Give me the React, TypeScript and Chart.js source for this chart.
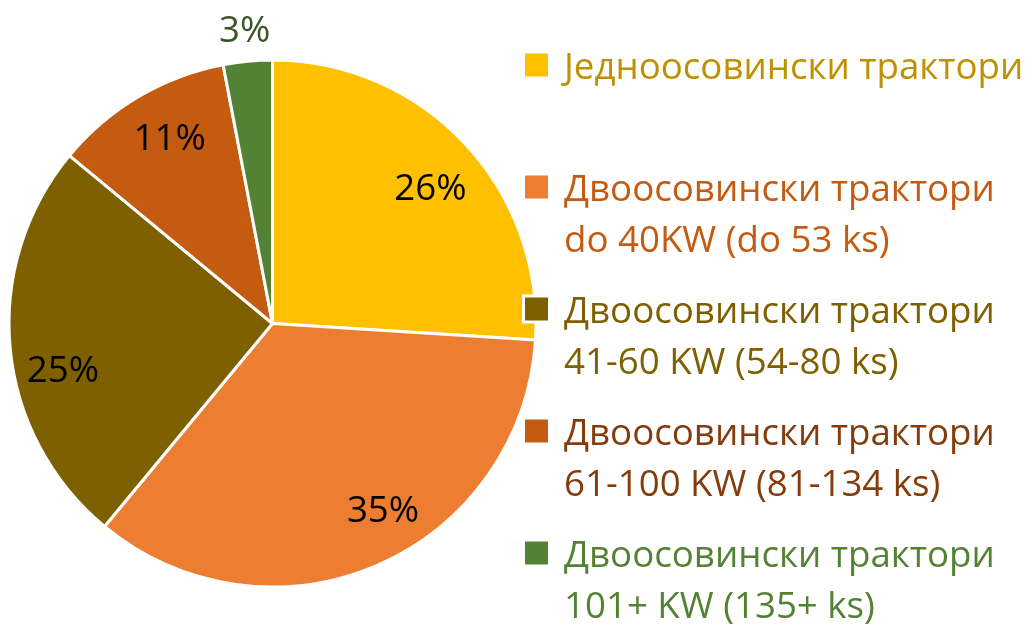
import React, { useEffect, useRef } from "react";
import { Chart, registerables } from "chart.js";

Chart.register(...registerables);

const categories: string[][] = [
  ["Једноосовински трактори"],
  ["Двоосовински трактори", "do 40KW (do 53 ks)"],
  ["Двоосовински трактори", "41-60 KW (54-80 ks)"],
  ["Двоосовински трактори", "61-100 KW (81-134 ks)"],
  ["Двоосовински трактори", "101+ KW (135+ ks)"],
];
const shares: number[] = [26, 35, 25, 11, 3];

const sliceColors = ["#FFC000", "#ED7D31", "#7F6000", "#C55A11", "#548235"];
const legendTextColors = ["#BF9000", "#C55A11", "#7F6000", "#843C0C", "#548235"];
const labelColors = ["#000000", "#000000", "#000000", "#000000", "#375623"];
// data-label placement style (angle nudge in degrees, radial fraction)
const labelAngleNudge = [2.5, -7.2, -7.1, 1.6, 0];
const labelRadial = [0.79, 0.824, 0.815, 0.805, 1.12];

const FONT_FAMILY = '"Open Sans", "Noto Sans", sans-serif';

function fitFontSize(ctx: CanvasRenderingContext2D): number {
  ctx.save();
  ctx.font = `40px ${FONT_FAMILY}`;
  const w = ctx.measureText("Двоосовински трактори").width;
  ctx.restore();
  return (40 * 431) / w;
}

const customPlugin = {
  id: "customDraw",
  afterDatasetsDraw(chart: any) {
    const ctx: CanvasRenderingContext2D = chart.ctx;
    const size = fitFontSize(ctx);
    const meta = chart.getDatasetMeta(0);
    const data = chart.data.datasets[0].data as number[];
    ctx.save();
    ctx.font = `${size}px ${FONT_FAMILY}`;
    ctx.textAlign = "center";
    ctx.textBaseline = "middle";
    meta.data.forEach((arc: any, i: number) => {
      const p = arc.getProps(["x", "y", "startAngle", "endAngle", "outerRadius"], true);
      const mid = (p.startAngle + p.endAngle) / 2 + (labelAngleNudge[i] * Math.PI) / 180;
      const frac = labelRadial[i];
      const x = p.x + Math.cos(mid) * p.outerRadius * frac;
      const y = p.y + Math.sin(mid) * p.outerRadius * frac + 1.5;
      ctx.fillStyle = labelColors[i];
      ctx.fillText(`${data[i]}%`, x, y);
    });
    ctx.restore();

    // legend
    const markerX = 525;
    const markerSize = 23;
    const textX = 564;
    const firstBaseline = 79;
    const slot = 122;
    const lineH = 51;
    ctx.save();
    ctx.font = `${size}px ${FONT_FAMILY}`;
    ctx.textAlign = "left";
    ctx.textBaseline = "alphabetic";
    (chart.data.labels as string[][]).forEach((lines, i) => {
      const base = firstBaseline + i * slot;
      const cy = base - 14;
      ctx.fillStyle = "#FFFFFF";
      ctx.fillRect(markerX - 3, cy - markerSize / 2 - 3, markerSize + 6, markerSize + 6);
      ctx.fillStyle = sliceColors[i];
      ctx.fillRect(markerX, cy - markerSize / 2, markerSize, markerSize);
      ctx.fillStyle = legendTextColors[i];
      lines.forEach((line, j) => {
        ctx.fillText(line, textX, base + j * lineH);
      });
    });
    ctx.restore();
  },
};

export default function App() {
  const canvasRef = useRef<HTMLCanvasElement | null>(null);

  useEffect(() => {
    document.body.style.margin = "0";
    const canvas = canvasRef.current;
    if (!canvas) return;
    const chart = new Chart(canvas, {
      type: "pie",
      data: {
        labels: categories as any,
        datasets: [
          {
            data: shares,
            backgroundColor: sliceColors,
            borderColor: "#FFFFFF",
            borderWidth: 3,
          },
        ],
      },
      options: {
        responsive: false,
        animation: false,
        layout: {
          padding: { left: 7.5, top: 58.5, right: 497.5, bottom: 36.5 },
        },
        plugins: {
          legend: { display: false },
          tooltip: { enabled: false },
          title: { display: false },
        },
      },
      plugins: [customPlugin],
    });
    return () => chart.destroy();
  }, []);

  return (
    <div style={{ position: "absolute", left: 0, top: 0, width: 1035, height: 625, background: "#FFFFFF" }}>
      <canvas ref={canvasRef} width={1035} height={625} style={{ width: 1035, height: 625, display: "block" }} />
    </div>
  );
}
